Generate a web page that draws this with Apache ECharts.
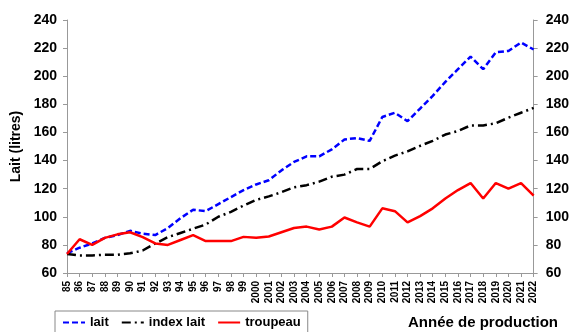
<!DOCTYPE html>
<html>
<head>
<meta charset="utf-8">
<script src="https://cdn.jsdelivr.net/npm/echarts@6/dist/echarts.min.js"></script>
<style>
html,body{margin:0;padding:0;background:#fff;}
#chart{width:572px;height:332px;}
</style>
</head>
<body>
<div id="chart"></div>
<script>
var years = ['85','86','87','88','89','90','91','92','93','94','95','96','97','98','99',
  '2000','2001','2002','2003','2004','2005','2006','2007','2008','2009','2010','2011',
  '2012','2013','2014','2015','2016','2017','2018','2019','2020','2021','2022'];
var lait = [74,78,81,85,87,90,88,87,92,99,105,104,109,114,119,
  123,126,133,139,143,143,148,155,156,154,171,174,168,177,186,196,205,214,205,217,218,224,219];
var indexLait = [73.5,72.5,72.5,73,73,74,76,81,85.5,88.5,91.5,94.5,100,103.5,108,
  112,114.5,117.5,121,122.5,125,128.5,130,134,134,139.5,143.5,146.5,150.5,154,158.5,161,165,165,166.5,170.5,174,177.5];
var troupeau = [73.5,84,80,85,87.5,89,85.5,81,80,83.5,87,82.7,82.7,82.7,85.7,
  85,86,89,92,93,91,93,99.5,96,93,106,104,96,100.5,106,113,119,124,113,124,120,124,115];
var seriesNames = ['lait','index lait','troupeau'];
var yTicks = {min:60, max:240, interval:20};
var xTitle = 'Année de production';
var yTitle = 'Lait (litres)';

var FONT = '"Liberation Sans", Arial, sans-serif';
var chart = echarts.init(document.getElementById('chart'), null, {renderer:'canvas'});

function yAxis(pos, margin){
  return {
    type:'value', position:pos, min:yTicks.min, max:yTicks.max, interval:yTicks.interval,
    axisLine:{show:true, lineStyle:{color:'#999', width:1}},
    axisTick:{show:true, inside:false, length:4, lineStyle:{color:'#999'}},
    splitLine:{show:false},
    axisLabel:{color:'#000', fontFamily:FONT, fontWeight:'bold', fontSize:14, margin:margin}
  };
}
var yl = yAxis('left', 10);
yl.name = yTitle; yl.nameLocation = 'middle'; yl.nameRotate = 90; yl.nameGap = 33;
yl.nameTextStyle = {color:'#000', fontFamily:FONT, fontWeight:'bold', fontSize:14};
var yr = yAxis('right', 12);

chart.setOption({
  animation:false,
  backgroundColor:'#fff',
  grid:{left:67, right:36, top:20, bottom:59},
  xAxis:{
    type:'category', data:years, boundaryGap:false,
    axisLine:{show:true, lineStyle:{color:'#999', width:1}},
    axisTick:{show:true, interval:0, length:4, lineStyle:{color:'#999'}},
    axisLabel:{interval:0, rotate:90, color:'#000', fontFamily:FONT, fontWeight:'bold', fontSize:10, margin:8}
  },
  yAxis:[yl, yr],
  legend:{
    left:55, top:311, padding:[5,7], itemGap:12, itemWidth:22, itemHeight:14,
    borderColor:'#888', borderWidth:1,
    itemStyle:{color:'transparent', borderColor:'transparent', borderWidth:0, opacity:0},
    data:seriesNames,
    textStyle:{color:'#000', fontFamily:FONT, fontWeight:'bold', fontSize:13}
  },
  graphic:[{
    type:'text', right:14, top:315,
    style:{text:xTitle, fill:'#000', font:'bold 15px ' + FONT}
  }],
  series:[
    {name:seriesNames[0], type:'line', data:lait, symbol:'none', yAxisIndex:0,
     lineStyle:{color:'#0000ff', width:2.5, type:[6,3]}, itemStyle:{color:'#0000ff'}},
    {name:seriesNames[1], type:'line', data:indexLait, symbol:'none', yAxisIndex:0,
     lineStyle:{color:'#000', width:2.5, type:[9,4,2,4]}, itemStyle:{color:'#000'}},
    {name:seriesNames[2], type:'line', data:troupeau, symbol:'none', yAxisIndex:0,
     lineStyle:{color:'#ff0000', width:2.5}, itemStyle:{color:'#ff0000'}}
  ]
});
</script>
</body>
</html>
